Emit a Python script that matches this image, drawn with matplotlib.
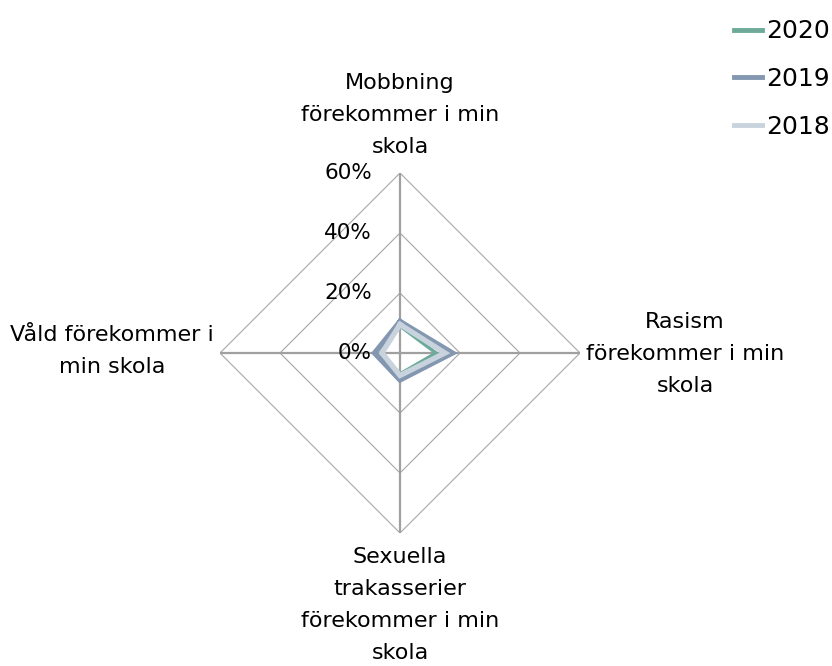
import numpy as np
from matplotlib import pyplot as plt

# survey: share of pupils answering yes, per year
categories = ["Mobbning\nförekommer i min\nskola",
              "Rasism\nförekommer i min\nskola",
              "Sexuella\ntrakasserier\nförekommer i min\nskola",
              "Våld förekommer i\nmin skola"]
years = ["2020", "2019", "2018"]
values_2020 = [9, 12, 7, 6.5]
values_2019 = [10.5, 17.5, 9, 8.5]
values_2018 = [9.5, 15, 7.5, 6]
ticks = [0, 20, 40, 60]
tick_labels = ["0%", "20%", "40%", "60%"]

colors = {"2020": "#6daa9a", "2019": "#8497b0", "2018": "#c9d3dd"}
widths = {"2020": 2.5, "2019": 3.8, "2018": 3.8}

W, H = 832, 666
fig = plt.figure(figsize=(W / 100, H / 100), dpi=100)
cx, cy, rad = 400, 353, 180
ax = fig.add_axes([(cx - rad) / W, (H - cy - rad) / H, 2 * rad / W, 2 * rad / H],
                  projection='polar')
ax.set_theta_offset(np.pi / 2)
ax.set_theta_direction(-1)
ax.set_ylim(0, 60)
ax.grid(False)
ax.spines['polar'].set_visible(False)
ax.set_xticks([])
ax.set_yticks([])
ax.patch.set_alpha(0)

n = len(categories)
angles = np.arange(n) * 2 * np.pi / n
closed = np.append(angles, angles[0])

# straight ring gridlines
for t in ticks[1:]:
    ax.plot(closed, [t] * (n + 1), color='#a6a6a6', lw=0.8, zorder=1)
# spokes
for a in angles:
    ax.plot([a, a], [0, 60], color='#a0a0a0', lw=1.6, zorder=1)

series = {"2020": values_2020, "2019": values_2019, "2018": values_2018}
for y in years:
    v = series[y]
    ax.plot(closed, v + v[:1], color=colors[y], lw=widths[y], label=y,
            solid_joinstyle='miter', zorder=3)

# value labels left of the top spoke
for t, lab in zip(ticks, tick_labels):
    px = cx - 28
    py = cy - t * rad / 60
    fig.text(px / W, 1 - py / H, lab, ha='right', va='center', fontsize=15.5)

# category labels
label_pos = [(400, 115), (685, 354), (400, 605), (112, 351)]
for lab, (px, py) in zip(categories, label_pos):
    fig.text(px / W, 1 - py / H, lab, ha='center', va='center', fontsize=16,
             linespacing=1.75)

leg = fig.legend(loc='upper right', bbox_to_anchor=(1.018, 0.997), frameon=False,
                 fontsize=18, handlelength=1.1, handletextpad=0.15,
                 labelspacing=0.95, borderaxespad=0.3)
for line in leg.get_lines():
    line.set_linewidth(3.5)

fig.savefig("out.png", dpi=100)
